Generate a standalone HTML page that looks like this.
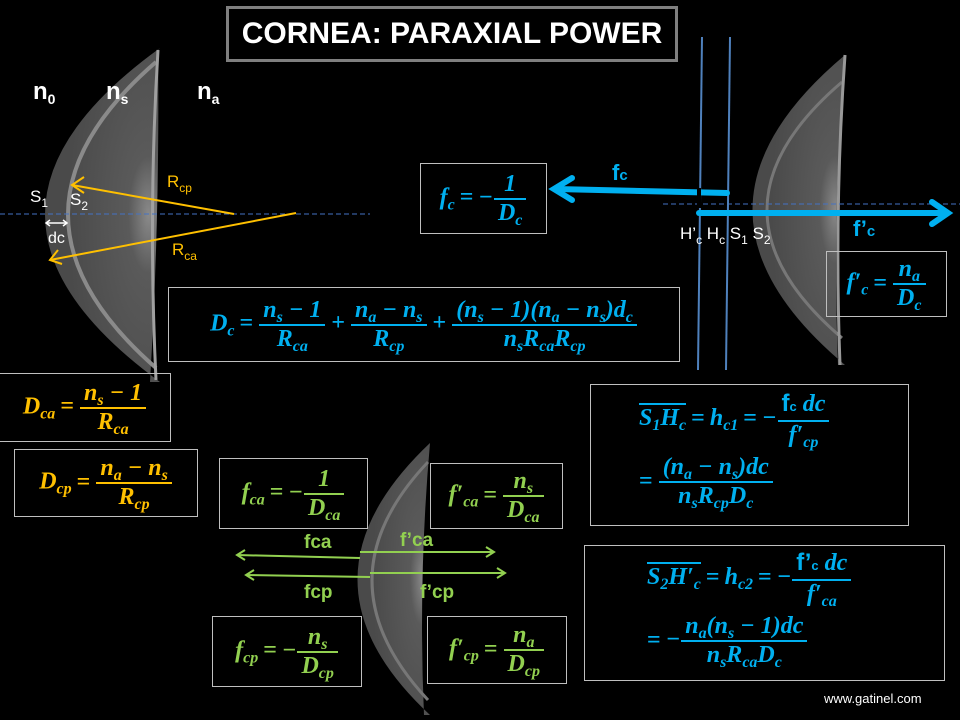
<!DOCTYPE html>
<html><head><meta charset="utf-8"><style>
body{margin:0;background:#000;}
#c{position:relative;width:960px;height:720px;overflow:hidden;background:#000;font-family:"Liberation Sans",sans-serif;}
.box{position:absolute;border:1px solid #bfbfbf;box-sizing:border-box;display:flex;align-items:center;justify-content:center;}
.m{font-family:"Liberation Serif",serif;font-weight:bold;font-style:italic;font-size:24px;white-space:nowrap;}
.fr{display:inline-flex;flex-direction:column;align-items:center;vertical-align:middle;margin:0 3px;}
.fr .n{padding:0 2px 1px;line-height:25px;}
.fr .d{border-top:2px solid currentColor;padding:1px 2px 0;line-height:25px;width:100%;text-align:center;}
.op{font-style:normal;margin:0 5px;}
sub{font-size:16px;vertical-align:-5px;line-height:0;}
.b{color:#00b0f0}.y{color:#ffc000}.g{color:#92d050}
.t{position:absolute;white-space:nowrap;}
</style></head><body><div id="c">
<svg width="960" height="720" style="position:absolute;left:0;top:0">
<defs>
<radialGradient id="gl" cx="0.9" cy="0.5" r="0.7"><stop offset="0" stop-color="#8a8a8a"/><stop offset="0.25" stop-color="#5a5a5a"/><stop offset="1" stop-color="#4a4a4a"/></radialGradient>
</defs>
<path d="M160,48 Q-70,214 160,382 L150,382 Q160,214 158,50 Z" fill="url(#gl)"/>
<path d="M156,62 Q-20,214 156,368" fill="none" stroke="#8a8a8a" stroke-width="4"/>
<path d="M158,50 Q148,214 156,380" fill="none" stroke="#a0a0a0" stroke-width="3"/>
<path d="M845,55 Q660,210 845,365 L838,365 Q832,210 845,55 Z" fill="url(#gl)"/>
<path d="M842,82 Q692,210 842,338" fill="none" stroke="#777" stroke-width="3"/>
<path d="M845,55 Q834,210 840,365" fill="none" stroke="#999" stroke-width="3"/>
<path d="M430,443 Q285,580 430,715 L424,715 Q418,580 430,443 Z" fill="url(#gl)"/>
<path d="M428,462 Q316,580 428,700" fill="none" stroke="#777" stroke-width="3"/>
<line x1="0" y1="214" x2="370" y2="214" stroke="#4472c4" stroke-dasharray="5,3"/>
<line x1="663" y1="204" x2="960" y2="204" stroke="#4472c4" stroke-dasharray="5,3"/>
<line x1="702" y1="37" x2="698" y2="370" stroke="#4f81bd" stroke-width="2"/>
<line x1="730" y1="37" x2="726" y2="370" stroke="#4f81bd" stroke-width="2"/>
<g stroke="#ffc000" stroke-width="2" fill="none">
<line x1="234" y1="214" x2="72" y2="185"/><polyline points="84,177 72,185 84,193"/>
<line x1="296" y1="213" x2="50" y2="260"/><polyline points="58,250 50,260 62,264"/>
</g>
<g stroke="#fff" stroke-width="1.5" fill="none"><line x1="46" y1="223" x2="67" y2="223"/><polyline points="50,220 46,223 50,226"/><polyline points="63,220 67,223 63,226"/></g>
<g stroke="#00b0f0" stroke-width="6" fill="none" stroke-linecap="round">
<line x1="727" y1="193" x2="556" y2="189"/><polyline points="572,178 554,189 572,200"/>
<line x1="699" y1="213" x2="946" y2="213"/><polyline points="932,202 948,213 932,224"/>
</g>
<rect x="697" y="188" width="4" height="20" fill="#000"/>
<g stroke="#92d050" stroke-width="2" fill="none">
<line x1="360" y1="558" x2="237" y2="555"/><polyline points="245,550 237,555 245,560"/>
<line x1="360" y1="552" x2="494" y2="552"/><polyline points="486,547 494,552 486,557"/>
<line x1="370" y1="577" x2="246" y2="575"/><polyline points="254,570 246,575 254,580"/>
<line x1="370" y1="573" x2="505" y2="573"/><polyline points="497,568 505,573 497,578"/>
</g>
</svg>
<div class="t" style="left:226px;top:6px;width:452px;height:56px;border:3px solid #7f7f7f;box-sizing:border-box;color:#fff;font-weight:bold;font-size:30px;text-align:center;line-height:50px;">CORNEA: PARAXIAL POWER</div>
<div class="t" style="left:33px;top:78px;color:#fff;font-weight:bold;font-size:24px;">n<sub style="font-size:14px">0</sub></div>
<div class="t" style="left:106px;top:78px;color:#fff;font-weight:bold;font-size:24px;">n<sub style="font-size:14px">s</sub></div>
<div class="t" style="left:197px;top:78px;color:#fff;font-weight:bold;font-size:24px;">n<sub style="font-size:14px">a</sub></div>
<div class="t" style="left:30px;top:187px;color:#fff;font-size:17px;">S<sub style="font-size:12px">1</sub></div>
<div class="t" style="left:70px;top:190px;color:#fff;font-size:17px;">S<sub style="font-size:12px">2</sub></div>
<div class="t" style="left:48px;top:230px;color:#fff;font-size:16px;">dc</div>
<div class="t y" style="left:167px;top:172px;font-size:17px;">R<sub style="font-size:12px">cp</sub></div>
<div class="t y" style="left:172px;top:240px;font-size:17px;">R<sub style="font-size:12px">ca</sub></div>
<div class="t b" style="left:612px;top:160px;font-weight:bold;font-size:22px;">f<span style="font-size:15px">c</span></div>
<div class="t b" style="left:853px;top:216px;font-weight:bold;font-size:22px;">f’<span style="font-size:15px">c</span></div>
<div class="t" style="left:680px;top:224px;color:#fff;font-size:17px;">H’<sub style="font-size:12px">c</sub> H<sub style="font-size:12px">c</sub> S<sub style="font-size:12px">1</sub> S<sub style="font-size:12px">2</sub></div>
<div class="t g" style="left:304px;top:532px;font-weight:bold;font-size:19px;">fca</div>
<div class="t g" style="left:400px;top:530px;font-weight:bold;font-size:19px;">f’ca</div>
<div class="t g" style="left:304px;top:582px;font-weight:bold;font-size:19px;">fcp</div>
<div class="t g" style="left:420px;top:582px;font-weight:bold;font-size:19px;">f’cp</div>
<div class="t" style="left:824px;top:691px;color:#fff;font-size:13px;">www.gatinel.com</div>
<div class="box m b" style="left:420px;top:163px;width:127px;height:71px;"><span>f<sub>c</sub><span class="op">=</span>−<span class="fr"><span class="n">1</span><span class="d">D<sub>c</sub></span></span></span></div>
<div class="box m b" style="left:168px;top:287px;width:512px;height:75px;"><span>D<sub>c</sub><span class="op">=</span><span class="fr"><span class="n">n<sub>s</sub> − 1</span><span class="d">R<sub>ca</sub></span></span><span class="op">+</span><span class="fr"><span class="n">n<sub>a</sub> − n<sub>s</sub></span><span class="d">R<sub>cp</sub></span></span><span class="op">+</span><span class="fr"><span class="n">(n<sub>s</sub> − 1)(n<sub>a</sub> − n<sub>s</sub>)d<sub>c</sub></span><span class="d">n<sub>s</sub>R<sub>ca</sub>R<sub>cp</sub></span></span></span></div>
<div class="box m b" style="left:826px;top:251px;width:121px;height:66px;"><span>f′<sub>c</sub><span class="op">=</span><span class="fr"><span class="n">n<sub>a</sub></span><span class="d">D<sub>c</sub></span></span></span></div>
<div class="box m y" style="left:-1px;top:373px;width:172px;height:69px;"><span>D<sub>ca</sub><span class="op">=</span><span class="fr"><span class="n">n<sub>s</sub> − 1</span><span class="d">R<sub>ca</sub></span></span></span></div>
<div class="box m y" style="left:14px;top:449px;width:184px;height:68px;"><span>D<sub>cp</sub><span class="op">=</span><span class="fr"><span class="n">n<sub>a</sub> − n<sub>s</sub></span><span class="d">R<sub>cp</sub></span></span></span></div>
<div class="box m g" style="left:219px;top:458px;width:149px;height:71px;"><span>f<sub>ca</sub><span class="op">=</span>−<span class="fr"><span class="n">1</span><span class="d">D<sub>ca</sub></span></span></span></div>
<div class="box m g" style="left:430px;top:463px;width:133px;height:66px;"><span>f′<sub>ca</sub><span class="op">=</span><span class="fr"><span class="n">n<sub>s</sub></span><span class="d">D<sub>ca</sub></span></span></span></div>
<div class="box m g" style="left:212px;top:616px;width:150px;height:71px;"><span>f<sub>cp</sub><span class="op">=</span>−<span class="fr"><span class="n">n<sub>s</sub></span><span class="d">D<sub>cp</sub></span></span></span></div>
<div class="box m g" style="left:427px;top:616px;width:140px;height:68px;"><span>f′<sub>cp</sub><span class="op">=</span><span class="fr"><span class="n">n<sub>a</sub></span><span class="d">D<sub>cp</sub></span></span></span></div>
<div class="box m b" style="left:590px;top:384px;width:319px;height:142px;display:block;">
 <div style="position:absolute;left:48px;top:6px;"><span style="border-top:2px solid #00b0f0">S<sub>1</sub>H<sub>c</sub></span><span class="op">=</span>h<sub>c1</sub><span class="op">=</span>−<span class="fr"><span class="n"><span style="font-family:'Liberation Sans';font-style:normal">f<span style="font-size:13px">c</span></span> dc</span><span class="d">f′<sub>cp</sub></span></span></div>
 <div style="position:absolute;left:48px;top:70px;"><span class="op" style="margin-left:0">=</span><span class="fr"><span class="n">(n<sub>a</sub> − n<sub>s</sub>)dc</span><span class="d">n<sub>s</sub>R<sub>cp</sub>D<sub>c</sub></span></span></div>
</div>
<div class="box m b" style="left:584px;top:545px;width:361px;height:136px;display:block;">
 <div style="position:absolute;left:62px;top:4px;"><span style="border-top:2px solid #00b0f0">S<sub>2</sub>H′<sub>c</sub></span><span class="op">=</span>h<sub>c2</sub><span class="op">=</span>−<span class="fr"><span class="n"><span style="font-family:'Liberation Sans';font-style:normal">f’<span style="font-size:13px">c</span></span> dc</span><span class="d">f′<sub>ca</sub></span></span></div>
 <div style="position:absolute;left:62px;top:68px;"><span class="op" style="margin-left:0">=</span>−<span class="fr"><span class="n">n<sub>a</sub>(n<sub>s</sub> − 1)dc</span><span class="d">n<sub>s</sub>R<sub>ca</sub>D<sub>c</sub></span></span></div>
</div>
</div></body></html>
